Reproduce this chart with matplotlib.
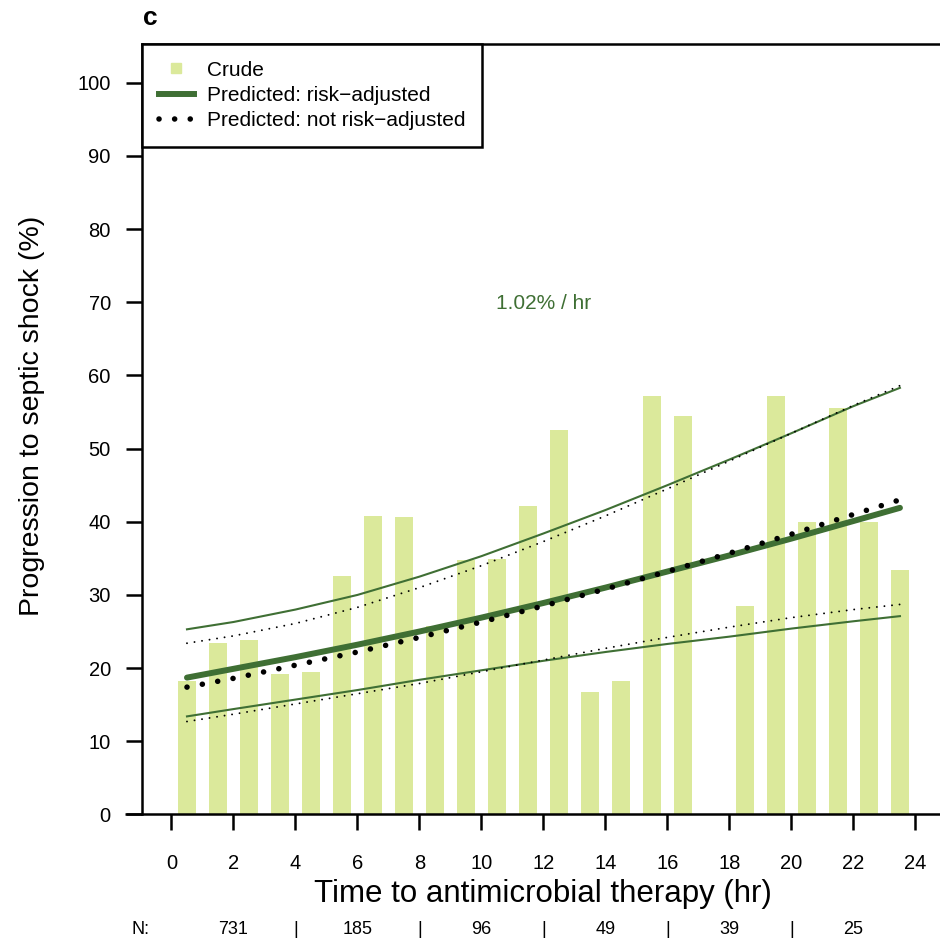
import numpy as np
import matplotlib
matplotlib.use("Agg")
import matplotlib.pyplot as plt
from matplotlib.lines import Line2D
from matplotlib.transforms import blended_transform_factory

plt.rcParams["font.family"] = ["Liberation Sans", "DejaVu Sans"]

# Crude progression to septic shock per 1-hour bin of time to antimicrobials
hour_bins = list(range(24))
crude_pct = [18.3, 23.4, 23.9, 19.2, 19.4, 32.6, 40.8, 40.7, 25.8, 34.8,
             34.9, 42.1, 52.6, 16.7, 18.2, 57.2, 54.5, np.nan, 28.5, 57.2,
             39.9, 55.6, 39.9, 33.4]

# Model predictions (%) with 95% bounds
curve_hours = [0.5, 2, 4, 6, 8, 10, 12, 14, 16, 18, 20, 22, 23.5]
adj_fit = [18.7, 19.9, 21.5, 23.2, 25.0, 26.9, 28.9, 31.0, 33.2, 35.4, 37.7, 40.1, 41.9]
adj_upper = [25.3, 26.3, 28.0, 30.0, 32.5, 35.3, 38.4, 41.6, 45.0, 48.5, 52.1, 55.8, 58.3]
adj_lower = [13.4, 14.4, 15.7, 17.0, 18.4, 19.7, 21.0, 22.2, 23.3, 24.3, 25.4, 26.4, 27.1]
unadj_fit = [17.4, 18.6, 20.4, 22.2, 24.2, 26.3, 28.5, 30.8, 33.2, 35.7, 38.3, 41.0, 43.0]
unadj_upper = [23.4, 24.4, 26.1, 28.3, 31.0, 34.0, 37.3, 40.8, 44.5, 48.3, 52.1, 55.9, 58.6]
unadj_lower = [12.7, 13.7, 15.1, 16.5, 17.9, 19.5, 21.1, 22.7, 24.2, 25.6, 26.9, 28.0, 28.7]

x_ticks = list(range(0, 25, 2))
y_ticks = list(range(0, 101, 10))

# Patients per 4-hour window, shown under the axis
n_centers = [2, 6, 10, 14, 18, 22]
n_counts = ["731", "185", "96", "49", "39", "25"]
n_separators = [4, 8, 12, 16, 20]

slope_text = "1.02% / hr"

BAR = "#dbe99b"
GREEN = "#3f6f34"

fig = plt.figure(figsize=(9.4, 9.42), dpi=100)
ax = fig.add_axes([0.1511, 0.1354, 0.8489, 0.818])

xmin = -0.95
xmax = xmin + 798 / 31.0
ax.set_xlim(xmin, xmax)
ax.set_ylim(0, 105.3)

centers = np.array(hour_bins) + 0.5
heights = np.array(crude_pct, dtype=float)
ok = ~np.isnan(heights)
ax.bar(centers[ok], heights[ok], width=0.6, color=BAR, edgecolor="none", zorder=1)

# risk-adjusted model (green)
ax.plot(curve_hours, adj_upper, color=GREEN, lw=1.5, zorder=2)
ax.plot(curve_hours, adj_lower, color=GREEN, lw=1.5, zorder=2)
ax.plot(curve_hours, adj_fit, color=GREEN, lw=4.3, solid_capstyle="round", zorder=3)

# model without risk adjustment (black dots)
small_dots = (0, (0.01, 3.9))
big_dots = (0, (0.01, 2.8))
ax.plot(curve_hours, unadj_upper, color="black", lw=1.4, linestyle=small_dots,
        dash_capstyle="round", zorder=4)
ax.plot(curve_hours, unadj_lower, color="black", lw=1.4, linestyle=small_dots,
        dash_capstyle="round", zorder=4)
ax.plot(curve_hours, unadj_fit, color="black", lw=4.0, linestyle=big_dots,
        dash_capstyle="round", zorder=5)

ax.text(12, 69.8, slope_text, color=GREEN, fontsize=15, ha="center", va="center")

# frame: left and top lines, bottom line running past the y axis
for side in ("right", "bottom"):
    ax.spines[side].set_visible(False)
for side in ("left", "top"):
    ax.spines[side].set_linewidth(1.8)
ax.plot([-1.5, xmax], [0, 0], color="black", lw=1.8, clip_on=False, zorder=6,
        solid_capstyle="butt")

ax.set_xticks(x_ticks)
ax.set_yticks(y_ticks)
ax.tick_params(axis="y", direction="out", length=11.5, width=1.8, pad=11, labelsize=14.5)
ax.tick_params(axis="x", direction="out", length=11.5, width=1.8, pad=17, labelsize=14.5)

handles = [
    Line2D([], [], marker="s", linestyle="none", markersize=6.8,
           markerfacecolor=BAR, markeredgecolor=BAR),
    Line2D([], [], color=GREEN, lw=4.3),
    Line2D([], [], color="black", lw=4.0, linestyle=big_dots, dash_capstyle="round"),
]
labels = ["Crude", "Predicted: risk\u2212adjusted", "Predicted: not risk\u2212adjusted"]
leg = ax.legend(handles, labels, loc="upper left", borderaxespad=0, fontsize=15,
                frameon=True, fancybox=False, framealpha=1, edgecolor="black",
                borderpad=0.8, labelspacing=0.3, handlelength=1.7,
                handletextpad=0.6)
leg.get_frame().set_linewidth(1.8)
leg.set_zorder(10)

fig.text(31.7 / 940, 1 - 416 / 942, "Progression to septic shock (%)", rotation=90,
         ha="center", va="center", fontsize=20.5)
fig.text(543 / 940, 1 - 902 / 942, "Time to antimicrobial therapy (hr)",
         ha="center", va="baseline", fontsize=22.5)
fig.text(143 / 940, 1 - 25 / 942, "c", ha="left", va="baseline", fontsize=19,
         fontweight="bold")

trans = blended_transform_factory(ax.transData, fig.transFigure)
row_y = 1 - 930 / 942
ax.text(-1.0, row_y, "N:", transform=trans, ha="center", va="center", fontsize=13)
for xc, n in zip(n_centers, n_counts):
    ax.text(xc, row_y, n, transform=trans, ha="center", va="center", fontsize=13)
for xs in n_separators:
    ax.text(xs, row_y, "|", transform=trans, ha="center", va="center", fontsize=13)

fig.savefig("out.png", dpi=100)
